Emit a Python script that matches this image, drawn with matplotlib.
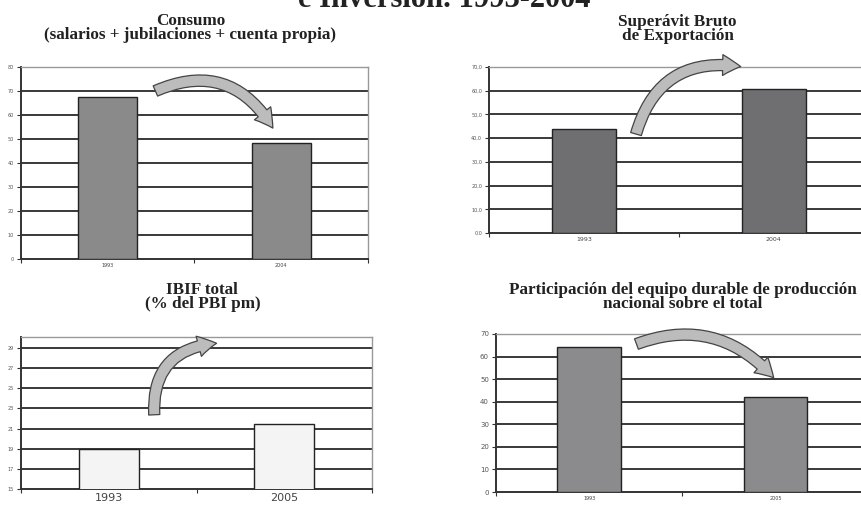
import matplotlib.pyplot as plt
from matplotlib.patches import FancyArrowPatch
from matplotlib.ticker import FuncFormatter

# values read per panel (% shares)
years_consumo = ['1993', '2004']
consumo = [67.4, 48.5]

years_superavit = ['1993', '2004']
superavit = [43.9, 60.6]

years_ibif = ['1993', '2005']
ibif = [19.0, 21.5]

years_equipo = ['1993', '2005']
equipo = [64.1, 42.2]

TITLE_FONT = dict(family='Liberation Serif', weight='bold', color='#222222')

fig = plt.figure(figsize=(8.61, 5.05), dpi=100)
fig.patch.set_facecolor('white')


def panel(rect, cats, vals, ylim, step, color, fmt, tick_size, xlab_size, xpad=3, edge='#222222'):
    ax = fig.add_axes(rect)
    ax.set_facecolor('white')
    ax.bar(range(len(cats)), vals, width=0.34, color=color, edgecolor=edge,
           linewidth=1.0, zorder=3)
    ax.set_xlim(-0.5, len(cats) - 0.5)
    ax.set_ylim(*ylim)
    ticks = []
    t = ylim[0]
    while t <= ylim[1] + 1e-9:
        ticks.append(t)
        t += step
    ax.set_yticks(ticks)
    ax.yaxis.set_major_formatter(FuncFormatter(fmt))
    for t in ticks[1:]:
        ax.axhline(t, color='#2a2a2a', lw=1.3, zorder=1)
    ax.set_xticks(range(len(cats)))
    ax.set_xticklabels(cats)
    ax.set_xticks([-0.5, 0.5, 1.5], minor=True)
    ax.tick_params(axis='x', which='major', length=0, labelsize=xlab_size,
                   colors='#444444', pad=xpad)
    ax.tick_params(axis='x', which='minor', length=3, width=0.8, color='#333333')
    ax.tick_params(axis='y', length=3, width=0.8, color='#333333',
                   labelsize=tick_size, labelcolor='#555555', pad=2)
    for s in ['left', 'bottom']:
        ax.spines[s].set_color('#333333')
        ax.spines[s].set_linewidth(1.4)
    for s in ['top', 'right']:
        ax.spines[s].set_color('#999999')
        ax.spines[s].set_linewidth(1.0)
    return ax


def curved_arrow(ax, start, end, rad):
    arr = FancyArrowPatch(start, end, transform=ax.transAxes,
                          connectionstyle='arc3,rad=%s' % rad,
                          arrowstyle='simple,head_width=15,head_length=13,tail_width=8',
                          facecolor='#bcbcbc', edgecolor='#444444', linewidth=0.9,
                          zorder=5, clip_on=False)
    ax.add_patch(arr)


ax1 = panel([0.0244, 0.487, 0.403, 0.380], years_consumo, consumo, (0, 80), 10,
            '#8a8a8a', lambda v, p: '%d' % v, 3.5, 3.5)
curved_arrow(ax1, (0.38, 0.87), (0.73, 0.67), -0.45)

ax2 = panel([0.568, 0.5386, 0.441, 0.3287], years_superavit, superavit, (0, 70), 10,
            '#6f6f72', lambda v, p: ('%.1f' % v).replace('.', ','), 3.5, 4.5)
curved_arrow(ax2, (0.385, 0.58), (0.67, 1.0), -0.45)

ax3 = panel([0.0244, 0.0317, 0.4077, 0.301], years_ibif, ibif, (15, 30.1), 2,
            '#f4f4f4', lambda v, p: '%d' % v, 3.5, 8, xpad=3)
curved_arrow(ax3, (0.38, 0.47), (0.565, 0.96), -0.5)

ax4 = panel([0.576, 0.0257, 0.433, 0.313], years_equipo, equipo, (0, 70), 10,
            '#8b8b8d', lambda v, p: '%d' % v, 5, 3.5)
curved_arrow(ax4, (0.37, 0.93), (0.75, 0.71), -0.35)

# panel headings
fig.text(0.221, 0.945, 'Consumo\n(salarios + jubilaciones + cuenta propia)',
         ha='center', va='center', fontsize=12.3, linespacing=0.85, **TITLE_FONT)
fig.text(0.787, 0.943, 'Superávit Bruto\nde Exportación',
         ha='center', va='center', fontsize=12.3, linespacing=0.85, **TITLE_FONT)
fig.text(0.235, 0.412, 'IBIF total\n(% del PBI pm)',
         ha='center', va='center', fontsize=12.3, linespacing=0.85, **TITLE_FONT)
fig.text(0.793, 0.412, 'Participación del equipo durable de producción\nnacional sobre el total',
         ha='center', va='center', fontsize=12.3, linespacing=0.85, **TITLE_FONT)

# main heading, cut at the top edge
fig.text(0.516, 0.986, 'e Inversión. 1993-2004', ha='center', va='baseline',
         fontsize=22, **TITLE_FONT)

fig.savefig('out.png', dpi=100)
